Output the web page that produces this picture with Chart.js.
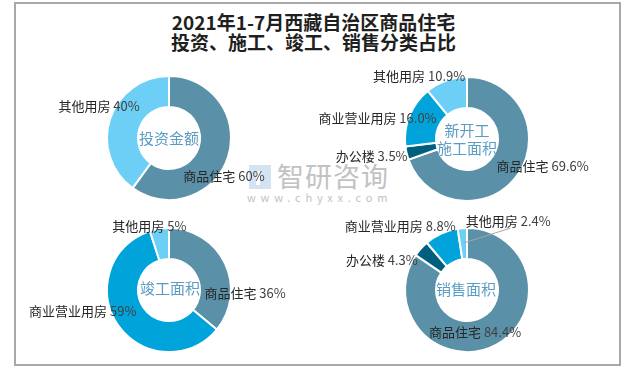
<!DOCTYPE html>
<html>
<head>
<meta charset="utf-8">
<script src="https://cdn.jsdelivr.net/npm/chart.js@4/dist/chart.umd.min.js"></script>
<style>
  body { margin: 0; background: #fff; }
  #wrap { position: relative; width: 635px; height: 369px; overflow: hidden; font-family: "Noto Sans CJK SC", sans-serif; }
  #frame { position: absolute; left: 14px; top: 2px; width: 607px; height: 364px; border: 2px solid #a8a8a8; box-sizing: border-box; }
  #title { position: absolute; left: 0; top: 12px; width: 627px; text-align: center; font-size: 19px; line-height: 20px; font-weight: bold; color: #1f1f1f; }
  canvas { position: absolute; left: 0; top: 0; }
  .wm { position: absolute; color: #c2c2c2; white-space: nowrap; }
</style>
</head>
<body>
<div id="wrap">
  <div id="frame"></div>
  <div id="title">2021年1-7月西藏自治区商品住宅<br>投资、施工、竣工、销售分类占比</div>
  <div class="wm" style="left:249px;top:165px;width:22px;height:24px;background:#d3e3f1"></div>
  <div class="wm" style="left:256px;top:171px;width:4px;height:14px;background:#fff"></div>
  <div class="wm" style="left:277px;top:158px;font-size:27px;line-height:36px;letter-spacing:1px">智研咨询</div>
  <div class="wm" style="left:247px;top:189px;font-size:11px;line-height:16px;letter-spacing:4.8px">www.chyxx.com</div>
  <canvas id="investChart" width="635" height="369"></canvas>
  <canvas id="newStartChart" width="635" height="369"></canvas>
  <canvas id="completedChart" width="635" height="369"></canvas>
  <canvas id="salesChart" width="635" height="369"></canvas>
</div>
<script>
// 投资金额
const investLabels = ["商品住宅", "其他用房"];
const investValues = [60, 40];

// 新开工施工面积
const newStartLabels = ["商品住宅", "办公楼", "商业营业用房", "其他用房"];
const newStartValues = [69.6, 3.5, 16.0, 10.9];

// 竣工面积
const completedLabels = ["商品住宅", "商业营业用房", "其他用房"];
const completedValues = [36, 59, 5];

// 销售面积
const salesLabels = ["商品住宅", "办公楼", "商业营业用房", "其他用房"];
const salesValues = [84.4, 4.3, 8.8, 2.4];

const colors = {
  "商品住宅": "#5b91a8",
  "其他用房": "#6dcff6",
  "商业营业用房": "#00a3da",
  "办公楼": "#005f7f"
};

const FONT = '"Noto Sans CJK SC", sans-serif';

// slice labels: name + percent, placed near the middle of each arc
const sliceLabels = {
  id: "sliceLabels",
  afterDatasetsDraw(chart, args, opts) {
    const ctx = chart.ctx;
    const meta = chart.getDatasetMeta(0);
    const data = chart.data.datasets[0].data;
    ctx.save();
    ctx.font = "13px " + FONT;
    ctx.textBaseline = "middle";
    ctx.textAlign = "left";
    meta.data.forEach((arc, i) => {
      const mid = (arc.startAngle + arc.endAngle) / 2;
      const ax = arc.x + Math.cos(mid) * arc.outerRadius;
      const ay = arc.y + Math.sin(mid) * arc.outerRadius;
      const off = opts.offsets[i];
      const cx = ax + off[0], cy = ay + off[1];
      const name = chart.data.labels[i] + " ";
      const pct = data[i].toFixed(opts.decimals) + "%";
      const w1 = ctx.measureText(name).width;
      const w2 = ctx.measureText(pct).width;
      const x0 = cx - (w1 + w2) / 2;
      if (opts.leader && opts.leader[i]) {
        const r = arc.outerRadius * 0.76;
        ctx.strokeStyle = "#a6a6a6";
        ctx.lineWidth = 1;
        ctx.beginPath();
        ctx.moveTo(arc.x + Math.cos(mid) * r, arc.y + Math.sin(mid) * r);
        ctx.lineTo(cx + 2, cy + 7);
        ctx.stroke();
      }
      ctx.fillStyle = "#262626";
      ctx.fillText(name, x0, cy);
      ctx.fillStyle = "#404040";
      ctx.fillText(pct, x0 + w1, cy);
    });
    ctx.restore();
  }
};

// text in the hole
const centerText = {
  id: "centerText",
  afterDatasetsDraw(chart, args, opts) {
    const arc = chart.getDatasetMeta(0).data[0];
    const ctx = chart.ctx;
    ctx.save();
    ctx.font = "15px " + FONT;
    ctx.fillStyle = "#5a9cc2";
    ctx.textAlign = "center";
    ctx.textBaseline = "middle";
    const n = opts.lines.length;
    opts.lines.forEach((t, i) => {
      ctx.fillText(t, arc.x + opts.dx, arc.y + opts.dy + (i - (n - 1) / 2) * 18);
    });
    ctx.restore();
  }
};

function donut(id, labels, values, cx, cy, decimals, offsets, lines, dx, dy, leader) {
  const half = 63;
  return new Chart(document.getElementById(id), {
    type: "doughnut",
    data: {
      labels: labels,
      datasets: [{
        data: values,
        backgroundColor: labels.map(l => colors[l]),
        borderColor: "#ffffff",
        borderWidth: 2
      }]
    },
    options: {
      responsive: false,
      animation: false,
      devicePixelRatio: 1,
      cutout: "50%",
      events: [],
      layout: {
        padding: { left: cx - half, right: 635 - cx - half, top: cy - half, bottom: 369 - cy - half }
      },
      plugins: {
        legend: { display: false },
        tooltip: { enabled: false },
        sliceLabels: { decimals: decimals, offsets: offsets, leader: leader },
        centerText: { lines: lines, dx: dx, dy: dy }
      }
    },
    plugins: [sliceLabels, centerText]
  });
}

donut("investChart", investLabels, investValues, 169, 138, 0,
  [[-4, 19], [-11, -13]], ["投资金额"], 0, 0);

donut("newStartChart", newStartLabels, newStartValues, 467, 139, 1,
  [[25, -9], [-35, 3], [-32, 2], [-27, -5]], ["新开工", "施工面积"], 0, 0);

donut("completedChart", completedLabels, completedValues, 169, 290, 0,
  [[20, 29], [-35, -14], [-10, -3]], ["竣工面积"], 1, -2);

donut("salesChart", salesLabels, salesValues, 467, 290, 1,
  [[-21, -13], [-39, 11], [-41, -8], [46, -7]], ["销售面积"], -1, -1,
  [false, false, false, true]);
</script>
</body>
</html>
